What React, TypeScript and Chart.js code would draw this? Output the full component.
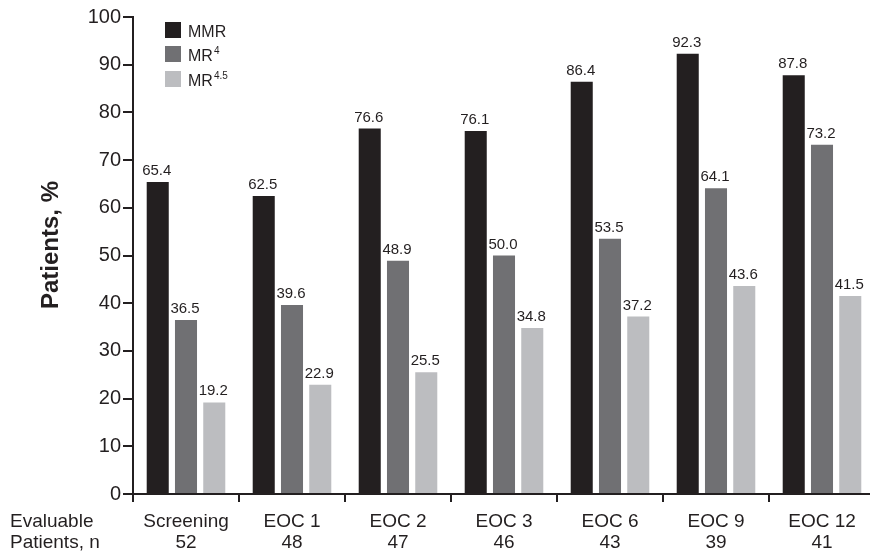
import React, { useEffect, useRef } from "react";
import { Chart, registerables } from "chart.js";

Chart.register(...registerables);

const categories = ["Screening", "EOC 1", "EOC 2", "EOC 3", "EOC 6", "EOC 9", "EOC 12"];
const evaluableN = ["52", "48", "47", "46", "43", "39", "41"];
const mmrValues = [65.4, 62.5, 76.6, 76.1, 86.4, 92.3, 87.8];
const mr4Values = [36.5, 39.6, 48.9, 50.0, 53.5, 64.1, 73.2];
const mr45Values = [19.2, 22.9, 25.5, 34.8, 37.2, 43.6, 41.5];
const seriesNames = ["MMR", "MR", "MR"];
const seriesSups = ["", "4", "4.5"];
const yTitle = "Patients, %";
const rowLabel = ["Evaluable", "Patients, n"];

const COLORS = ["#231f20", "#707073", "#bcbdc0"];
const FONT = "'Liberation Sans', Arial, Helvetica, sans-serif";

const overlayPlugin = {
  id: "overlay",
  afterDatasetsDraw(chart: any) {
    const ctx = chart.ctx;
    ctx.save();
    // data labels
    ctx.fillStyle = "#231f20";
    ctx.font = `15px ${FONT}`;
    ctx.textAlign = "center";
    ctx.textBaseline = "alphabetic";
    chart.data.datasets.forEach((ds: any, i: number) => {
      const meta = chart.getDatasetMeta(i);
      meta.data.forEach((el: any, j: number) => {
        ctx.fillText(Number(ds.data[j]).toFixed(1), el.x - 1, el.y - 7);
      });
    });
    // legend
    const lx = 165;
    const ly = [22, 46, 71];
    seriesNames.forEach((name, i) => {
      ctx.fillStyle = COLORS[i];
      ctx.fillRect(lx, ly[i], 16, 16);
      ctx.fillStyle = "#231f20";
      ctx.font = `16px ${FONT}`;
      ctx.textAlign = "left";
      ctx.textBaseline = "alphabetic";
      ctx.fillText(name, lx + 23, ly[i] + 15);
      const w = ctx.measureText(name).width;
      if (seriesSups[i]) {
        ctx.font = `10px ${FONT}`;
        ctx.fillText(seriesSups[i], lx + 23 + w + 1, ly[i] + 8);
      }
    });
    // y title
    ctx.save();
    ctx.translate(51, 245);
    ctx.rotate(-Math.PI / 2);
    ctx.font = `bold 24px ${FONT}`;
    ctx.textAlign = "center";
    ctx.textBaseline = "middle";
    ctx.fillStyle = "#231f20";
    ctx.fillText(yTitle, 0, 0);
    ctx.restore();
    // row label
    ctx.font = `19px ${FONT}`;
    ctx.textAlign = "left";
    ctx.textBaseline = "middle";
    ctx.fillStyle = "#231f20";
    ctx.fillText(rowLabel[0], 10, 522);
    ctx.fillText(rowLabel[1], 10, 543);
    ctx.restore();
  },
};

export default function App() {
  const ref = useRef<HTMLCanvasElement | null>(null);
  useEffect(() => {
    document.body.style.margin = "0";
    const chart = new Chart(ref.current as HTMLCanvasElement, {
      type: "bar",
      data: {
        labels: categories.map((c, i) => [c, evaluableN[i]]),
        datasets: [
          { label: "MMR", data: mmrValues, backgroundColor: COLORS[0] },
          { label: "MR4", data: mr4Values, backgroundColor: COLORS[1] },
          { label: "MR4.5", data: mr45Values, backgroundColor: COLORS[2] },
        ],
      },
      options: {
        responsive: false,
        animation: false,
        layout: { padding: { top: 17, left: 0, right: 1, bottom: 0 } },
        datasets: { bar: { categoryPercentage: 0.8, barPercentage: 0.78 } },
        plugins: { legend: { display: false }, tooltip: { enabled: false } },
        scales: {
          x: {
            afterFit: (s: any) => {
              s.height = 60;
            },
            grid: {
              offset: true,
              drawOnChartArea: false,
              drawTicks: true,
              tickLength: 8,
              color: "#231f20",
              lineWidth: 2,
            },
            border: { display: true, color: "#231f20", width: 2 },
            ticks: {
              color: "#231f20",
              font: { family: FONT, size: 19, lineHeight: 1.1 },
              padding: 9,
              maxRotation: 0,
              autoSkip: false,
            },
          },
          y: {
            min: 0,
            max: 100,
            afterFit: (s: any) => {
              s.width = 133;
            },
            grid: {
              drawOnChartArea: false,
              drawTicks: true,
              tickLength: 10,
              color: "#231f20",
              lineWidth: 2,
            },
            border: { display: true, color: "#231f20", width: 2 },
            ticks: {
              stepSize: 10,
              color: "#231f20",
              font: { family: FONT, size: 20 },
              padding: 2,
            },
          },
        },
      },
      plugins: [overlayPlugin],
    });
    return () => chart.destroy();
  }, []);
  return (
    <div style={{ position: "fixed", left: 0, top: 0, width: 870, height: 554, overflow: "hidden", background: "#fff" }}>
      <canvas ref={ref} width={876} height={554} style={{ display: "block", width: 876, height: 554 }} />
    </div>
  );
}
